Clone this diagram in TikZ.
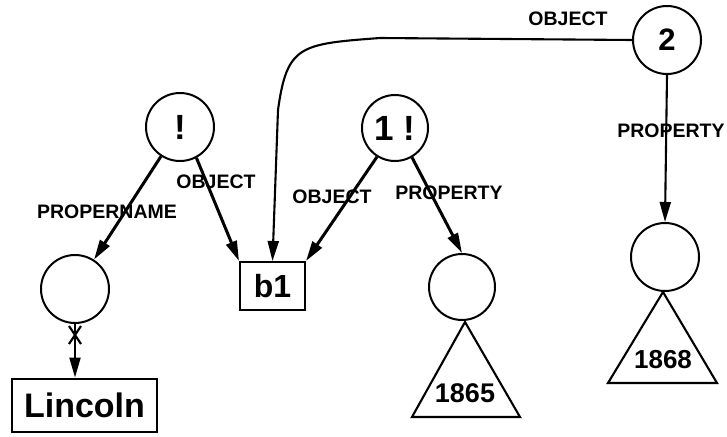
\documentclass[tikz,border=0pt]{standalone}
\usepackage{fontspec}
\setmainfont{Liberation Sans}
\usetikzlibrary{arrows.meta}
\begin{document}
\begin{tikzpicture}[x=1pt,y=-1pt,
  circ/.style={circle,draw,line width=2pt,minimum size=68pt,inner sep=0pt,font=\bfseries\fontsize{35}{36}\selectfont},
  sbox/.style={rectangle,draw,line width=2pt,inner sep=0pt,font=\bfseries},
  lbl/.style={font=\bfseries\fontsize{19.5}{21}\selectfont,inner sep=0pt},
  tip/.style={-{Triangle[length=20pt,width=11pt]}},
  thk/.style={tip,line width=3pt},
  thn/.style={tip,line width=2.1pt},
  tri/.style={draw,line width=2.1pt,line join=miter}
]
\useasboundingbox (0,0) rectangle (727,436);
% nodes
\node[circ] (bang) at (180,127) {!};
\node[circ,minimum size=66pt] (onebang) at (395,128) {1 !};
\node[circ,font=\bfseries\fontsize{31}{32}\selectfont] (two) at (667,40) {2};
\node[circ] (lc) at (75,289) {};
\node[circ,minimum size=66pt] (c65) at (462,287) {};
\node[circ] (c68) at (665,257) {};
\node[sbox,minimum width=65pt,minimum height=48pt,font=\bfseries\fontsize{32}{34}\selectfont] (b1) at (272.5,286) {b1};
\node[sbox,minimum width=145pt,minimum height=53pt,font=\bfseries\fontsize{34}{36}\selectfont] (linc) at (84.5,405) {Lincoln};
% triangles
\coordinate (t65) at (465,322);
\coordinate (t68) at (663,292);
\draw[tri] (t65) -- (520,417) -- (412,417) -- cycle;
\draw[tri] (t68) -- (717,383) -- (608,383) -- cycle;
\node[font=\bfseries\fontsize{27}{28}\selectfont] (y65) at (465,393) {1865};
\node[font=\bfseries\fontsize{26}{27}\selectfont] (y68) at (663,360) {1868};
% connectors
\draw[thk] (bang) -- (lc);
\draw[thk] (bang.-62) -- (b1.north west);
\draw[thk] (onebang.-122) -- (b1.north east);
\draw[thk] (onebang.-60) -- (c65.north);
\draw[thn] (two.south) -- (c68.north);
\coordinate (k1) at (380,38);
\coordinate (k2) at (278,110);
\draw[thn] (two.west) -- (k1) .. controls (300,44) and (287,45) .. (k2) -- (b1.north);
\draw[thn] (lc.south) -- (lc.south |- linc.north);
\coordinate (xm) at (lc.south |- 0,335);
\draw[line width=2.2pt] (xm) ++(-6,-9) -- ++(12,18);
\draw[line width=2.2pt] (xm) ++(6,-9) -- ++(-12,18);
% labels
\node[lbl] (l1) at (107,212) {PROPERNAME};
\node[lbl] (l2) at (216,182) {OBJECT};
\node[lbl] (l3) at (332,197) {OBJECT};
\node[lbl] (l4) at (449,193) {PROPERTY};
\node[lbl] (l5) at (671,131) {PROPERTY};
\node[lbl] (l6) at (568,19) {OBJECT};
\end{tikzpicture}
\end{document}
